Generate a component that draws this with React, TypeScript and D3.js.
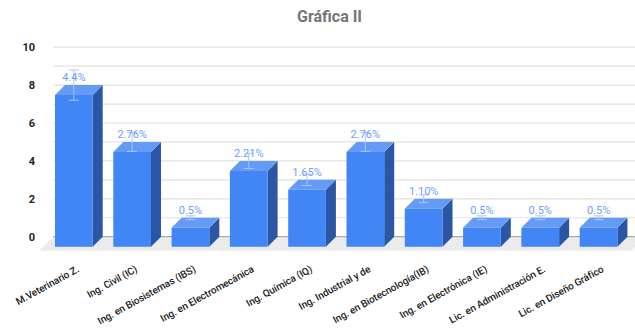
import React from "react";
import * as d3 from "d3";

const categories = [
  "M.Veterinario Z.",
  "Ing. Civil (IC)",
  "Ing. en Biosistemas (IBS)",
  "Ing. en Electromecánica",
  "Ing. Química (IQ)",
  "Ing. Industrial y de",
  "Ing. en Biotecnología(IB)",
  "Ing. en Electrónica (IE)",
  "Lic. en Administración E.",
  "Lic. en Diseño Gráfico",
];
const values = [8, 5, 1, 4, 3, 5, 2, 1, 1, 1];
const valueLabels = ["4.4%", "2.76%", "0.5%", "2.21%", "1.65%", "2.76%", "1.10%", "0.5%", "0.5%", "0.5%"];
const yTicks = [0, 2, 4, 6, 8, 10];
const yGrid = [0, 1, 2, 3, 4, 5, 6, 7, 8, 9, 10];
const errorFraction = 0.1;
const title = "Gráfica II";

const W = 635;
const H = 333;
const DX = 10;
const DY = 10;

export default function App() {
  const y = d3.scaleLinear().domain([0, 10]).range([236.7, 47.2]);
  const x = d3
    .scaleBand<string>()
    .domain(categories)
    .range([44.7, 44.7 + 583])
    .paddingInner(0.353)
    .paddingOuter(0.1765);
  const bw = x.bandwidth();
  const backLeft = 53.3;
  const floorDepth = 14;

  return (
    <svg
      width={W}
      height={H}
      style={{ position: "absolute", left: 0, top: 0, background: "#fff" }}
      fontFamily="Roboto, sans-serif"
    >
      <text x={329.5} y={21.5} textAnchor="middle" fontSize={16} fontWeight="bold" fill="#757575">
        {title}
      </text>
      {yGrid.map((g) => (
        <line key={g} x1={backLeft} x2={W} y1={y(g)} y2={y(g)} stroke="#e2e2e2" strokeWidth={1.2} />
      ))}
      <polygon
        points={[
          [backLeft, y(0)],
          [W + 10, y(0)],
          [W + 10 - floorDepth, y(0) + floorDepth],
          [backLeft - floorDepth, y(0) + floorDepth],
        ]
          .map((p) => p.join(","))
          .join(" ")}
        fill="#ebebeb"
      />
      <line x1={backLeft} x2={W} y1={y(0)} y2={y(0)} stroke="#9e9e9e" strokeWidth={1} />
      {yTicks.map((t) => (
        <text key={t} x={35} y={y(t)} dy="0.35em" textAnchor="end" fontSize={11} fontWeight="bold" fill="#222">
          {t}
        </text>
      ))}
      {categories.map((c, i) => {
        const x0 = x(c)!;
        const v = values[i];
        const fTop = y(v) + DY;
        const fBot = y(0) + DY;
        const front = `M${x0},${fTop}H${x0 + bw}V${fBot}H${x0}Z`;
        const side = `M${x0 + bw},${fTop}L${x0 + bw + DX},${fTop - DY}V${fBot - DY}L${x0 + bw},${fBot}Z`;
        const top = `M${x0},${fTop}L${x0 + DX},${fTop - DY}H${x0 + bw + DX}L${x0 + bw},${fTop}Z`;
        return (
          <g key={c}>
            <path d={side} fill="#2b56a6" />
            <path d={top} fill="#649bf5" />
            <path d={front} fill="#4285f4" />
          </g>
        );
      })}
      {categories.map((c, i) => {
        const cx = x(c)! + bw / 2;
        const v = values[i];
        const e = v * errorFraction;
        const y1 = y(v + e);
        const y2 = y(v - e);
        return (
          <g key={c} stroke="#a9c6fa" strokeWidth={1}>
            <line x1={cx} x2={cx} y1={y1} y2={y2} />
            <line x1={cx - 5} x2={cx + 5} y1={y1} y2={y1} />
            <line x1={cx - 5} x2={cx + 5} y1={y2} y2={y2} />
          </g>
        );
      })}
      {categories.map((c, i) => {
        const cx = x(c)! + bw / 2;
        return (
          <text key={c} x={cx} y={y(values[i]) - 4} textAnchor="middle" fontSize={11} fill="#6ea0f6">
            {valueLabels[i]}
          </text>
        );
      })}
      {categories.map((c) => {
        const cx = x(c)! + bw / 2;
        return (
          <text
            key={c}
            transform={`translate(${cx + 2.5},${265}) rotate(-29)`}
            dy="0.71em"
            textAnchor="end"
            fontSize={10}
            fontWeight={500}
            letterSpacing={-0.1}
            fill="#222"
          >
            {c}
          </text>
        );
      })}
    </svg>
  );
}
